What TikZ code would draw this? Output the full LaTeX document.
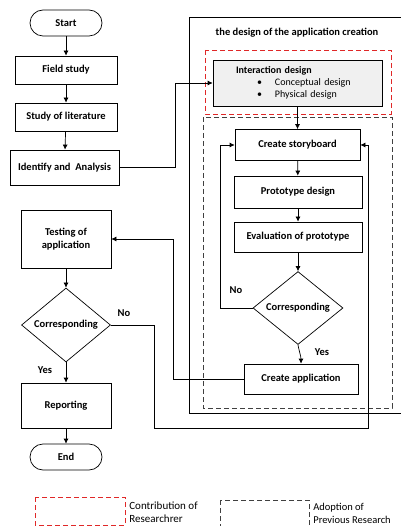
\documentclass[tikz,border=0pt]{standalone}
\usepackage{fontspec}
\setmainfont{Carlito}
\usetikzlibrary{shapes.geometric,arrows.meta}
\definecolor{contrib}{HTML}{E02828}
\definecolor{adopt}{HTML}{404040}
\tikzset{
  every node/.style={font=\fontsize{10.5}{12.5}\selectfont},
  proc/.style={draw, rectangle, font=\fontsize{10.5}{12.5}\selectfont\bfseries, align=center},
  term/.style={draw, rectangle, rounded corners=13pt, minimum width=72pt, minimum height=26pt, font=\fontsize{10.5}{12.5}\selectfont\bfseries},
  decide/.style={draw, diamond, inner sep=0pt, font=\fontsize{10.5}{12.5}\selectfont\bfseries},
  lbl/.style={font=\fontsize{10.5}{12.5}\selectfont\bfseries},
  contribbox/.style={draw=contrib, dash pattern=on 5pt off 3pt},
  adoptbox/.style={draw=adopt, dash pattern=on 5pt off 3pt}
}

\begin{document}
\begin{tikzpicture}[x=1pt, y=-1pt, line width=0.7pt, >={Latex[length=5pt,width=5pt]}]
        \useasboundingbox (0,0) rectangle (400,526);
        \node (start) [term] at (66,23) {Start};
        \node (field) [proc, minimum width=102pt, minimum height=28pt] at (66,70) {Field study};
        \node (study) [proc, minimum width=102pt, minimum height=28pt] at (66,117) {Study of literature};
        \node (ident) [proc, minimum width=109pt, minimum height=35pt, inner xsep=1pt] at (64.5,167.5) {Identify and~ Analysis};
        \node (test) [proc, minimum width=90pt, minimum height=58pt] at (66,239) {Testing of\\application};
        \node (corr1) [decide, minimum width=89pt, minimum height=74pt] at (66,325) {Corresponding};
        \node (report) [proc, minimum width=90pt, minimum height=45pt] at (66,405.5) {Reporting};
        \node (end) [term] at (66,457) {End};

        \draw (189,17) rectangle (410,413);
        \node (title) [lbl] at (297,33) {the design of the application creation};
        \draw[contribbox] (205,50) rectangle (391,114);
        \draw[adoptbox] (203,117) rectangle (392,408);

        \node (inter) [draw, fill=gray!12, minimum width=169pt, minimum height=46pt, inner xsep=23pt, inner ysep=2pt,
          text width=123pt, align=left, font=\fontsize{10}{12}\selectfont] at (297.5,83)
          {\textbf{Interaction design}\\
           \hspace*{21pt}\textbullet\hspace{13pt}Conceptual design\\
           \hspace*{21pt}\textbullet\hspace{13pt}Physical design};
        \node (story) [proc, minimum width=125pt, minimum height=31pt] at (297.5,145) {Create storyboard};
        \node (proto) [proc, minimum width=128pt, minimum height=32pt] at (298,192) {Prototype design};
        \node (eval) [proc, minimum width=128pt, minimum height=30pt] at (298,237) {Evaluation of prototype};
        \node (corr2) [decide, minimum width=90pt, minimum height=69pt] at (298,308) {Corresponding};
        \node (app) [proc, minimum width=114pt, minimum height=30pt] at (301,379) {Create application};

        \coordinate (c1) at (175,83);
        \coordinate (c2) at (220,145);
        \coordinate (c3) at (154,428);
        \coordinate (c4) at (368,428);
        \coordinate (c5) at (173,239);

        \draw[->] (start) to (field);
        \draw[->] (field) to (study);
        \draw[->] (study) to (ident);
        \draw[->] (ident) -| (c1) -- (inter);
        \draw[->] (inter) to (story);
        \draw[->] (story) to (proto);
        \draw[->] (proto) to (eval);
        \draw[->] (eval) to (corr2);
        \draw[->] (corr2.south) to[out=-80, in=90] (app.north);
        \draw[->] (corr2.west) -| (c2) -- (story.west);
        \draw[->] (app.west) -| (c5) -- (test.east);
        \draw[->] (test) to (corr1);
        \draw[->] (corr1) to (report);
        \draw[->] (report) to (end);
        \draw[->] (corr1.east) -| (c3) -- (c4) |- (story.east);

        \node (no1) [lbl] at (124,313) {No};
        \node (yes1) [lbl] at (45,370) {Yes};
        \node (no2) [lbl] at (236,290) {No};
        \node (yes2) [lbl] at (322,352) {Yes};

        \draw[contribbox] (35,497) rectangle (125,525);
        \node (contrib) [anchor=west, align=left, inner sep=0pt, font=\fontsize{11}{13.5}\selectfont] at (129,512) {Contribution of\\Researchrer};
        \draw[adoptbox] (220,500) rectangle (309,532);
        \node (adopt) [anchor=west, align=left, inner sep=0pt, font=\fontsize{10.5}{13}\selectfont] at (313,513) {Adoption of\\Previous Research};
      \end{tikzpicture}
\end{document}
